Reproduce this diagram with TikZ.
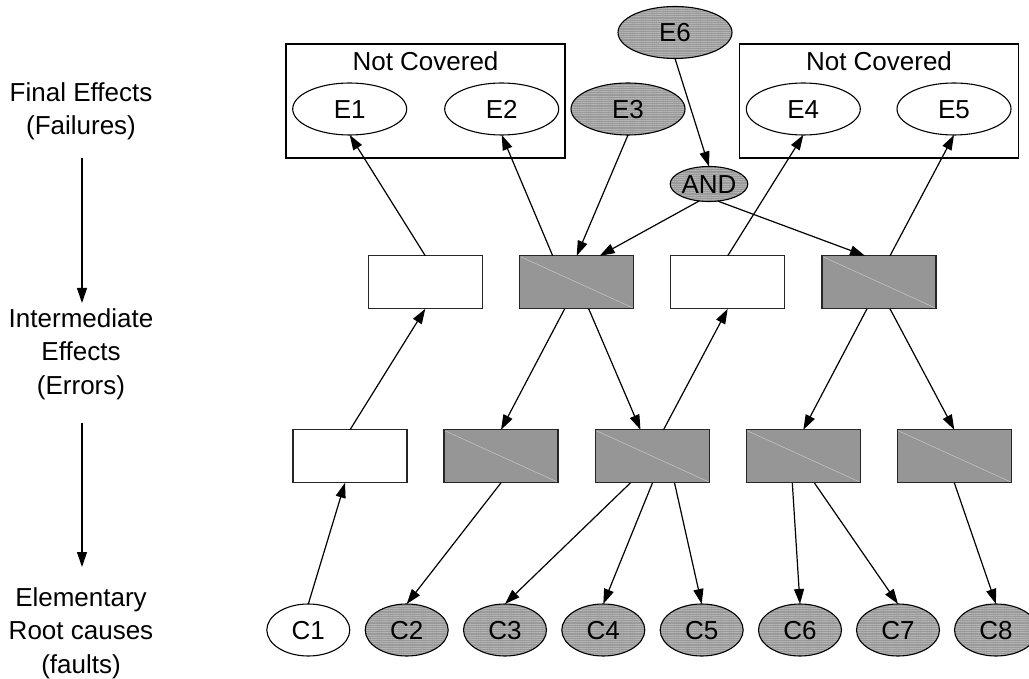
\documentclass[tikz,border=0pt]{standalone}
\usepackage{fontspec}
\setmainfont{Liberation Sans}
\usetikzlibrary{shapes.geometric,arrows.meta,patterns.meta}

\definecolor{boxfill}{HTML}{969696}
\definecolor{ellfill}{HTML}{9A9A9A}
\definecolor{ellline}{HTML}{B4B4B4}
\definecolor{diagline}{HTML}{C8C8C8}

\tikzset{
  every node/.style={inner sep=0pt, outer sep=0pt},
  lbl/.style={align=center, font=\fontsize{26pt}{33.5pt}\selectfont},
  txt/.style={font=\fontsize{26pt}{30pt}\selectfont, text height=18.7pt, text depth=0pt},
  whiteell/.style={txt, ellipse, draw, line width=1.1pt, fill=white, minimum height=52pt},
  greyell/.style={txt, ellipse, draw, line width=1.1pt, preaction={fill=ellfill},
    pattern={Lines[angle=0,distance=2.2pt,line width=0.6pt]}, pattern color=ellline,
    minimum height=52pt},
  effwide/.style={minimum width=114pt},
  causewide/.style={minimum width=83pt},
  whitebox/.style={rectangle, draw=black!85, line width=1.2pt, fill=white,
    minimum width=114pt, minimum height=53pt},
  greybox/.style={rectangle, draw=black!85, line width=1.2pt, fill=boxfill,
    minimum width=114pt, minimum height=53pt},
  groupbox/.style={rectangle, draw, line width=1.1pt, minimum width=279pt, minimum height=114pt},
  edge/.style={line width=1.2pt, -{Triangle[length=15pt,width=10pt]}},
  slash/.style={draw=diagline, line width=0.5pt},
}

\begin{document}
\begin{tikzpicture}[x=1pt, y=-1pt]
\useasboundingbox (0,0) rectangle (1029,679);
\clip (0,0) rectangle (1029,679);

% level labels on the left
\node[lbl] (lfinal) at (81,111.5) {Final Effects\\(Failures)};
\node[lbl] (linter) at (81,354) {Intermediate\\Effects\\(Errors)};
\node[lbl] (lroot)  at (81,633) {Elementary\\Root causes\\(faults)};
\coordinate (a1s) at (82,158);
\coordinate (a1e) at (82,303);
\coordinate (a2s) at (82,423);
\coordinate (a2e) at (82,567);
\draw[edge] (a1s) -- (a1e);
\draw[edge] (a2s) -- (a2e);

% groups of effects that are not covered
\node[groupbox] (nc1) at (425.5,101) {};
\node[txt] (nc1t) at (425.5,61) {Not Covered};
\node[groupbox] (nc2) at (879,101) {};
\node[txt] (nc2t) at (879,61) {Not Covered};

% final effects
\node[whiteell, effwide] (E1) at (349.7,109) {E1};
\node[whiteell, effwide] (E2) at (501.7,109) {E2};
\node[greyell, effwide]  (E3) at (628,109) {E3};
\node[whiteell, effwide] (E4) at (803.3,109) {E4};
\node[whiteell, effwide] (E5) at (954,109) {E5};
\node[greyell, effwide]  (E6) at (675,32.5) {E6};
\node[greyell, minimum width=75pt, minimum height=35pt] (AND) at (709,184) {AND};

% intermediate effects, upper row
\node[whitebox] (L2a) at (425.3,282.3) {};
\node[greybox]  (L2b) at (576.7,282.3) {};
\node[whitebox] (L2c) at (727.7,282.3) {};
\node[greybox]  (L2d) at (879,282.3) {};

% intermediate effects, lower row
\node[whitebox] (L3a) at (350,456.3) {};
\node[greybox]  (L3b) at (501,456.3) {};
\node[greybox]  (L3c) at (652.5,456.3) {};
\node[greybox]  (L3d) at (803.3,456.3) {};
\node[greybox]  (L3e) at (954.3,456.3) {};

\foreach \n in {L2b,L2d,L3b,L3c,L3d,L3e}
  \draw[slash] ([shift={(1pt,-1pt)}]\n.north west) -- ([shift={(-1pt,1pt)}]\n.south east);

% elementary root causes
\node[whiteell, causewide] (C1) at (308.3,630) {C1};
\node[greyell, causewide]  (C2) at (406.7,630) {C2};
\node[greyell, causewide]  (C3) at (505,630) {C3};
\node[greyell, causewide]  (C4) at (603.3,630) {C4};
\node[greyell, causewide]  (C5) at (701.7,630) {C5};
\node[greyell, causewide]  (C6) at (800,630) {C6};
\node[greyell, causewide]  (C7) at (898,630) {C7};
\node[greyell, causewide]  (C8) at (996,630) {C8};

% propagation between upper errors and final effects
\draw[edge] (L2a.north) -- (E1.south);
\draw[edge] ([xshift=-24pt]L2b.north) -- (E2.south);
\draw[edge] (E3.south) -- (L2b.north);
\draw[edge] (E6.south) -- (AND.north);
\draw[edge] (AND.240) -- ([xshift=23pt]L2b.north);
\draw[edge] (AND.297) -- ([xshift=-14pt]L2d.north);
\draw[edge] (L2c.north) -- (E4.south);
\draw[edge] ([xshift=11pt]L2d.north) -- (E5.south);

% propagation between the two rows of errors
\draw[edge] (L3a.north) -- (L2a.south);
\draw[edge] ([xshift=-12pt]L2b.south) -- (L3b.north);
\draw[edge] ([xshift=12pt]L2b.south) -- ([xshift=-12pt]L3c.north);
\draw[edge] ([xshift=11pt]L3c.north) -- (L2c.south);
\draw[edge] ([xshift=-12pt]L2d.south) -- (L3d.north);
\draw[edge] ([xshift=11pt]L2d.south) -- (L3e.north);

% propagation between root causes and lower errors
\draw[edge] (C1.north) -- ([xshift=-5pt]L3a.south);
\draw[edge] (L3b.south) -- (C2.north);
\draw[edge] ([xshift=-22pt]L3c.south) -- (C3.north);
\draw[edge] (L3c.south) -- (C4.north);
\draw[edge] ([xshift=22pt]L3c.south) -- (C5.north);
\draw[edge] ([xshift=-11pt]L3d.south) -- (C6.north);
\draw[edge] ([xshift=11pt]L3d.south) -- (C7.north);
\draw[edge] (L3e.south) -- (C8.north);
\end{tikzpicture}
\end{document}
